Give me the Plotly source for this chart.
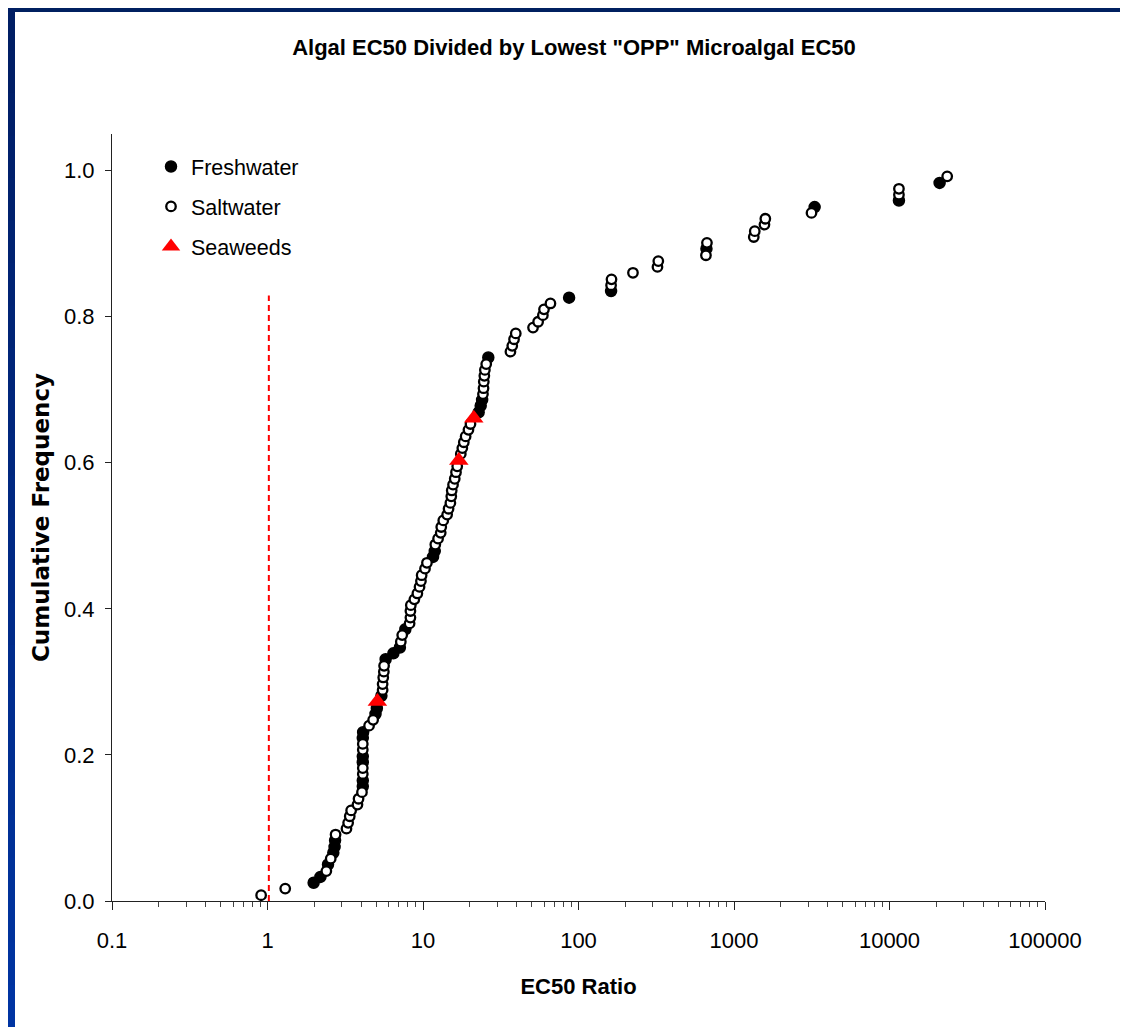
import plotly.graph_objects as go

# ---------------- data ----------------
fresh_ratio = [1.98, 2.19, 2.45, 2.65, 2.70, 2.72, 4.10, 4.10, 4.10, 4.10, 4.10, 4.12,
               4.95, 5.05, 5.40, 5.75, 6.45, 7.10, 7.70, 11.6, 11.9, 22.8, 23.5, 24.0,
               26.3, 87, 162, 665, 3300, 11500, 21000]
fresh_cum = [0.025, 0.033, 0.050, 0.066, 0.074, 0.083, 0.157, 0.165, 0.190, 0.198, 0.223, 0.231,
             0.256, 0.264, 0.281, 0.331, 0.339, 0.347, 0.372, 0.471, 0.479, 0.669, 0.678, 0.686,
             0.744, 0.826, 0.835, 0.893, 0.950, 0.959, 0.983]

salt_ratio = [0.91, 1.30, 2.39, 2.55, 2.74, 3.22, 3.30, 3.38, 3.45, 3.79, 3.85, 4.05,
              4.10, 4.10, 4.10, 4.10, 4.50, 4.78, 5.50, 5.50, 5.55, 5.60, 5.62, 7.20,
              7.35, 8.20, 8.30, 8.30, 8.35, 8.80, 9.20, 9.50, 9.70, 9.80, 10.3, 10.6,
              12.0, 12.5, 13.0, 13.1, 13.5, 14.3, 14.6, 15.0, 15.2, 15.3, 15.6, 16.0,
              16.3, 16.6, 17.5, 17.9, 18.3, 18.8, 19.6, 20.2, 24.3, 24.5, 24.6, 24.8,
              25.0, 25.5, 36.5, 37.5, 38.5, 39.5, 51, 55, 59, 60, 66, 162,
              163, 224, 322, 326, 660, 670, 1340, 1360, 1570, 1590, 3150, 11500,
              11500, 23500]
salt_cum = [0.008, 0.017, 0.041, 0.058, 0.091, 0.099, 0.107, 0.116, 0.124, 0.132, 0.140, 0.149,
            0.174, 0.182, 0.207, 0.215, 0.240, 0.248, 0.289, 0.297, 0.306, 0.314, 0.322, 0.355,
            0.364, 0.380, 0.388, 0.397, 0.405, 0.413, 0.421, 0.430, 0.438, 0.446, 0.455, 0.463,
            0.488, 0.496, 0.504, 0.512, 0.521, 0.529, 0.537, 0.545, 0.554, 0.562, 0.570, 0.578,
            0.587, 0.595, 0.612, 0.620, 0.628, 0.636, 0.645, 0.653, 0.694, 0.702, 0.711, 0.719,
            0.727, 0.735, 0.752, 0.760, 0.769, 0.777, 0.785, 0.793, 0.802, 0.810, 0.818, 0.843,
            0.851, 0.860, 0.868, 0.876, 0.884, 0.901, 0.909, 0.917, 0.926, 0.934, 0.942, 0.967,
            0.975, 0.992]

seaweed_ratio = [5.09, 17.0, 21.2]
seaweed_cum = [0.273, 0.603, 0.661]

ref_line_x = [1.02, 1.02]
ref_line_y = [0.0, 0.829]

x_tick_vals = [0.1, 1, 10, 100, 1000, 10000, 100000]
x_tick_text = ["0.1", "1", "10", "100", "1000", "10000", "100000"]
y_tick_vals = [0.0, 0.2, 0.4, 0.6, 0.8, 1.0]
y_tick_text = ["0.0", "0.2", "0.4", "0.6", "0.8", "1.0"]

title_text = 'Algal EC50 Divided by Lowest "OPP" Microalgal EC50'
x_title = "EC50 Ratio"
y_title = "Cumulative Frequency"

# ---------------- layout geometry (figure sits 8px inside the page) ----------------
W, H = 1120, 1019
L, R, T, B = 104, 83, 126, 126
pw, ph = W - L - R, H - T - B
FONT = "Liberation Sans, Arial, Helvetica, sans-serif"
YFONT = "DejaVu Sans, Liberation Sans, Arial, sans-serif"

def px_x(p):
    return (p - L) / pw

def px_y(p):
    return (H - B - p) / ph

minor_vals = [m * d for d in x_tick_vals[:-1] for m in range(2, 10)]

fig = go.Figure()

fig.add_trace(go.Scatter(
    x=ref_line_x, y=ref_line_y, mode="lines",
    line=dict(color="#FF0000", width=2, dash="6px,4px"),
    showlegend=False, hoverinfo="skip"))

fig.add_trace(go.Scatter(
    x=fresh_ratio, y=fresh_cum, mode="markers", name="Freshwater",
    legendgroup="f",
    marker=dict(symbol="circle", size=11, color="#000000",
                line=dict(color="#000000", width=1.5))))

fig.add_trace(go.Scatter(
    x=salt_ratio, y=salt_cum, mode="markers", name="Saltwater",
    legendgroup="s",
    marker=dict(symbol="circle", size=9.5, color="#FFFFFF",
                line=dict(color="#000000", width=2.3))))

fig.add_trace(go.Scatter(
    x=seaweed_ratio, y=seaweed_cum, mode="markers", name="Seaweeds",
    legendgroup="w",
    marker=dict(symbol="triangle-up", size=17, color="#FF0000",
                line=dict(color="#FF0000", width=0))))

# frame: dark blue bars on top and left edges
shapes = [dict(type="rect", xref="paper", yref="paper",
               x0=px_x(0), x1=px_x(W), y0=px_y(4), y1=px_y(0),
               fillcolor="rgb(0,32,96)", line=dict(width=0), layer="above")]
nseg = 24
for k in range(nseg):
    t = k / (nseg - 1)
    r_, g_, b_ = 0, int(30 + 22 * t), int(100 + 62 * t)
    y_top = k * H / nseg
    y_bot = (k + 1) * H / nseg + 1
    shapes.append(dict(type="rect", xref="paper", yref="paper",
                       x0=px_x(0), x1=px_x(7), y0=px_y(y_bot), y1=px_y(y_top),
                       fillcolor=f"rgb({r_},{g_},{b_})", line=dict(width=0),
                       layer="above"))

fig.update_layout(
    width=W, height=H,
    margin=dict(l=L, r=R, t=T, b=B, autoexpand=False),
    paper_bgcolor="white", plot_bgcolor="white",
    font=dict(family=FONT, color="#000000", size=22),
    title=dict(text=f"<b>{title_text}</b>", font=dict(size=22, family=FONT),
               x=566 / W, xanchor="center", xref="container",
               y=1 - 39 / H, yanchor="middle", yref="container"),
    showlegend=True,
    legend=dict(x=px_x(143), y=px_y(138), xanchor="left", yanchor="top",
                bgcolor="rgba(0,0,0,0)", borderwidth=0,
                font=dict(size=21.5, family=FONT),
                traceorder="grouped", tracegroupgap=9, itemsizing="trace"),
    shapes=shapes,
    xaxis=dict(
        type="log", range=[-1, 5],
        showline=True, linecolor="#222222", linewidth=1,
        showgrid=False, zeroline=False,
        tickmode="array", tickvals=x_tick_vals, ticktext=x_tick_text,
        ticks="outside", ticklen=8, tickcolor="#222222", tickwidth=1,
        ticklabelstandoff=12,
        minor=dict(tickmode="array", tickvals=minor_vals, ticks="outside",
                   ticklen=5, tickcolor="#444444", tickwidth=1, showgrid=False),
        tickfont=dict(size=22, family=FONT),
        title=dict(text=f"<b>{x_title}</b>", font=dict(size=22, family=FONT),
                   standoff=26),
        automargin=False,
    ),
    yaxis=dict(
        range=[0, 1.05],
        showline=True, linecolor="#222222", linewidth=1,
        showgrid=False, zeroline=False,
        tickmode="array", tickvals=y_tick_vals, ticktext=y_tick_text,
        ticks="outside", ticklen=6, tickcolor="#222222", tickwidth=1,
        ticklabelstandoff=6,
        tickfont=dict(size=22, family=FONT),
        title=dict(text=f"<b>{y_title}</b>", font=dict(size=23, family=YFONT),
                   standoff=7),
        automargin=False,
    ),
)

fig.write_html("out.html")
